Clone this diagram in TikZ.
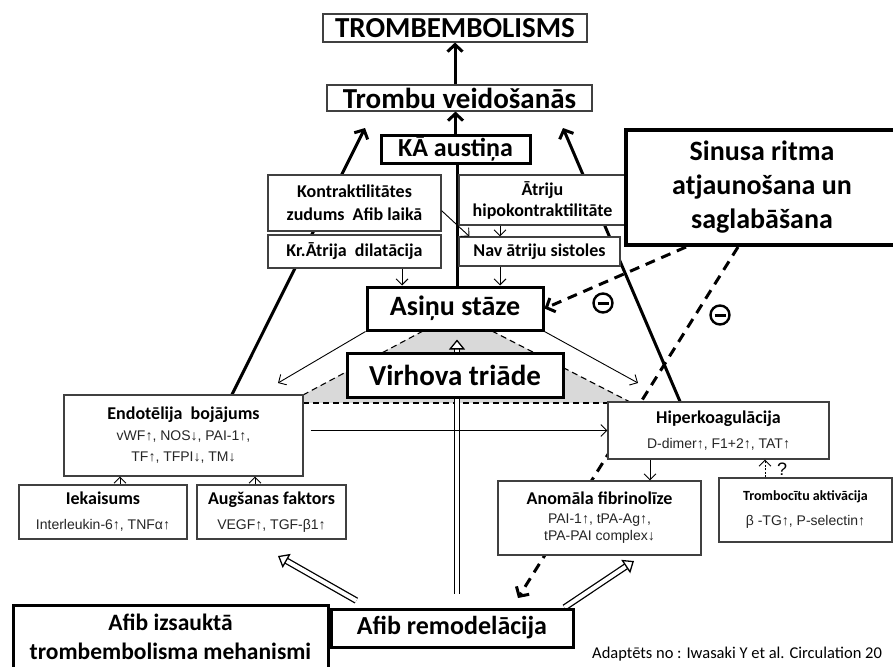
\documentclass[tikz,border=0pt]{standalone}
\usepackage{fontspec}
\setmainfont{Carlito}
\newfontfamily\arialfont{Liberation Sans}
\usetikzlibrary{arrows.meta}
\pgfdeclarelayer{bottom}
\pgfdeclarelayer{background}
\pgfsetlayers{bottom,background,main}
\definecolor{triadgray}{gray}{0.85}
\newcommand\bigtitle{\bfseries\fontsize{29}{32}\selectfont}
\newcommand\boxtitle{\bfseries\fontsize{26}{30}\selectfont}
\newcommand\smalltitle{\bfseries\fontsize{18}{22}\selectfont}
\newcommand\subline{\normalfont\arialfont\fontsize{14}{17}\selectfont\color{black!85}}

\begin{document}
\begin{tikzpicture}[
    x=1pt, y=-1pt,
    thinbox/.style={
      draw=black!75, fill=white, line width=1.1pt, align=center, inner sep=0pt
    },
    thickbox/.style={
      draw, fill=white, line width=3pt, align=center, inner sep=0pt
    },
    thinarrow/.style={
      line width=0.9pt, -{Straight Barb[length=6pt,width=12pt]}
    },
    thickarrow/.style={
      line width=3pt, -{Straight Barb[length=7pt,width=15pt]}
    },
    hollowarrow/.style={
      double, double distance=4pt, line width=1.3pt,
      -{Triangle[fill=white,length=10pt,width=16pt]}
    },
    dashline/.style={
      line width=3pt, dash pattern=on 10pt off 7pt
    },
    thindash/.style={
      line width=1.1pt, dash pattern=on 6pt off 4pt
    },
    minussign/.style={
      circle, draw, line width=2.4pt, minimum size=19pt, inner sep=0pt,
      path picture={
        \draw[line width=3pt] ([xshift=-5.5pt]path picture bounding box.center)
          -- ([xshift=5.5pt]path picture bounding box.center);
      }
    }
  ]
  \useasboundingbox (0,0) rectangle (893,666);

  % top chain
  \node[thinbox, minimum width=264pt, minimum height=28pt, font=\bigtitle] (tromb) at (455,28) {TROMBEMBOLISMS};
  \node[thinbox, minimum width=265pt, minimum height=26pt, font=\bigtitle] (veid) at (459.5,98) {Trombu veidošanās};
  \node[thickbox, minimum width=149pt, minimum height=28pt, font=\boxtitle] (ka) at (455.5,149) {KĀ austiņa};

  % stasis causes
  \node[thinbox, minimum width=173pt, minimum height=56pt, font=\bfseries\fontsize{18}{23}\selectfont] (kontr) at (354.5,203) {Kontraktilitātes\\ zudums\ \ Afib laikā};
  \node[thinbox, minimum width=173pt, minimum height=33pt, font=\bfseries\fontsize{18}{23}\selectfont] (dilat) at (354.5,251.5) {Kr.Ātrija\ \ dilatācija};
  \node[thinbox, minimum width=167pt, minimum height=50pt, font=\bfseries\fontsize{18}{21}\selectfont] (hipok) at (542.5,200) {Ātriju\\ hipokontraktilitāte};
  \node[thinbox, minimum width=161pt, minimum height=29pt, font=\bfseries\fontsize{18}{23}\selectfont] (nav) at (539.5,251.5) {Nav ātriju sistoles};
  \node[thickbox, minimum width=176pt, minimum height=43pt, font=\bfseries\fontsize{28}{32}\selectfont] (asinu) at (455,308.5) {Asiņu stāze};

  % therapy
  \node[thickbox, line width=4pt, minimum width=272pt, minimum height=115pt, font=\bfseries\fontsize{28}{34}\selectfont] (sinusa) at (762,187.5) {Sinusa ritma\\ atjaunošana un\\ saglabāšana};
  \node[minussign] (neg1) at (603,303) {};
  \node[minussign] (neg2) at (720,315) {};

  % triad
  \node[thickbox, minimum width=216pt, minimum height=44pt, font=\bigtitle] (virh) at (455,375) {Virhova triāde};
  \node[thinbox, minimum width=239pt, minimum height=81pt, font=\fontsize{14}{21}\selectfont] (endo) at (183.5,435.5) {\smalltitle Endotēlija\ \ bojājums\\ \subline vWF↑, NOS↓, PAI-1↑,\\ \subline TF↑, TFPI↓, TM↓};
  \node[thinbox, minimum width=221pt, minimum height=57pt, font=\fontsize{14}{25}\selectfont] (hiper) at (718.5,430.5) {\smalltitle Hiperkoagulācija\\ \subline D-dimer↑, F1+2↑, TAT↑};

  % lower boxes
  \node[thinbox, minimum width=168pt, minimum height=54pt, font=\fontsize{14}{25}\selectfont] (iek) at (103,512) {\smalltitle Iekaisums\\ \subline Interleukin-6↑, TNFα↑};
  \node[thinbox, minimum width=149pt, minimum height=54pt, font=\fontsize{14}{25}\selectfont] (aug) at (271.5,512) {\smalltitle Augšanas faktors\\ \subline VEGF↑, TGF-β1↑};
  \node[thinbox, minimum width=203pt, minimum height=74pt, font=\fontsize{14}{17}\selectfont] (anom) at (599.5,518) {\smalltitle Anomāla fibrinolīze\\[2pt] \subline PAI-1↑, tPA-Ag↑,\\ \subline tPA-PAI complex↓};
  \node[thinbox, minimum width=173pt, minimum height=64pt, font=\fontsize{14}{25}\selectfont] (tromboc) at (805.5,510) {\bfseries Trombocītu aktivācija\\ \subline β -TG↑, P-selectin↑};
  \node[inner sep=0pt, font=\arialfont\fontsize{18}{20}\selectfont] (qmark) at (782,469) {?};

  % bottom
  \node[thickbox, minimum width=315pt, minimum height=64pt, font=\bfseries\fontsize{23.5}{29}\selectfont] (afibiz) at (170.5,637) {Afib izsauktā\\ trombembolisma mehanismi};
  \node[thickbox, minimum width=242pt, minimum height=38pt, font=\boxtitle] (afibre) at (452,628) {Afib remodelācija};
  \node[anchor=west, inner sep=0pt, font=\fontsize{16.5}{18}\selectfont] (adapt) at (592,654) {Adaptēts no : Iwasaki Y et al. Circulation 20};

  % free ends and columns
  \coordinate (tipL) at (365,128);
  \coordinate (tipR) at (563,128);
  \coordinate (spine) at (457,0);
  \coordinate (colL) at (402,0);
  \coordinate (colR) at (500,0);
  \coordinate (colH) at (650,0);
  \coordinate (colI) at (120,0);
  \coordinate (colA) at (255,0);
  \coordinate (colQ) at (765,0);
  \coordinate (tipEndo) at (278,383);
  \coordinate (tipHiper) at (638,383);
  \coordinate (tipAfib) at (518,598);
  \coordinate (hollowL) at (278,556);
  \coordinate (hollowR) at (634,561);
  \coordinate (endoOut) at ([xshift=7pt]endo.east);

  % grey triad area
  \begin{pgfonlayer}{bottom}
    \fill[triadgray] (423,331) -- (492,331) -- (632,403) -- (303,403) -- (303,395) -- cycle;
    \draw[thindash] (423,331) -- (303,395);
    \draw[thindash] (492,331) -- (632,403);
    \draw[thindash] (303,403) -- (608,403);
  \end{pgfonlayer}

  % lines behind the boxes
  \begin{pgfonlayer}{background}
    \draw[thickarrow] ([xshift=48.5pt]endo.north) -- (tipL);
    \draw[thickarrow] ([xshift=-38.5pt]hiper.north) -- (tipR);
    \draw[line width=3pt] (ka.south -| spine) -- (asinu.north -| spine);
    \draw[dashline, -{Straight Barb[length=7pt,width=15pt]}] ([xshift=62pt]sinusa.south west) -- (asinu.east);
    \draw[dashline, -{Straight Barb[length=7pt,width=15pt]}] ([xshift=114pt]sinusa.south west) -- (tipAfib);
    \draw[hollowarrow, shorten <=14pt, shorten >=8pt] (afibre.north -| spine) -- (asinu.south -| spine);
    \draw[hollowarrow, shorten <=14pt] ([xshift=39pt]afibre.north west) -- (hollowL);
    \draw[hollowarrow] ([xshift=-10pt]afibre.north east) -- (hollowR);
  \end{pgfonlayer}

  % arrows
  \draw[thickarrow] (veid.north -| tromb.south) -- (tromb.south);
  \draw[thickarrow] (ka.north) -- (ka.north |- veid.south);
  \draw[thinarrow] (kontr.-5) -- ([xshift=11pt]nav.north west);
  \draw[thinarrow] (hipok.south -| colR) -- (nav.north -| colR);
  \draw[thinarrow] (dilat.south -| colL) -- (asinu.north -| colL);
  \draw[thinarrow] (nav.south -| colR) -- (asinu.north -| colR);
  \draw[thinarrow] (asinu.south west) -- (tipEndo);
  \draw[thinarrow] (asinu.south east) -- (tipHiper);
  \draw[thinarrow] (endoOut |- hiper.west) -- (hiper.west);
  \draw[thinarrow] (iek.north -| colI) -- (endo.south -| colI);
  \draw[thinarrow] (aug.north -| colA) -- (endo.south -| colA);
  \draw[thinarrow] (hiper.south -| colH) -- (anom.north -| colH);
  \draw[thinarrow, dash pattern=on 2pt off 1.5pt] (tromboc.north -| colQ) -- (hiper.south -| colQ);
\end{tikzpicture}
\end{document}
